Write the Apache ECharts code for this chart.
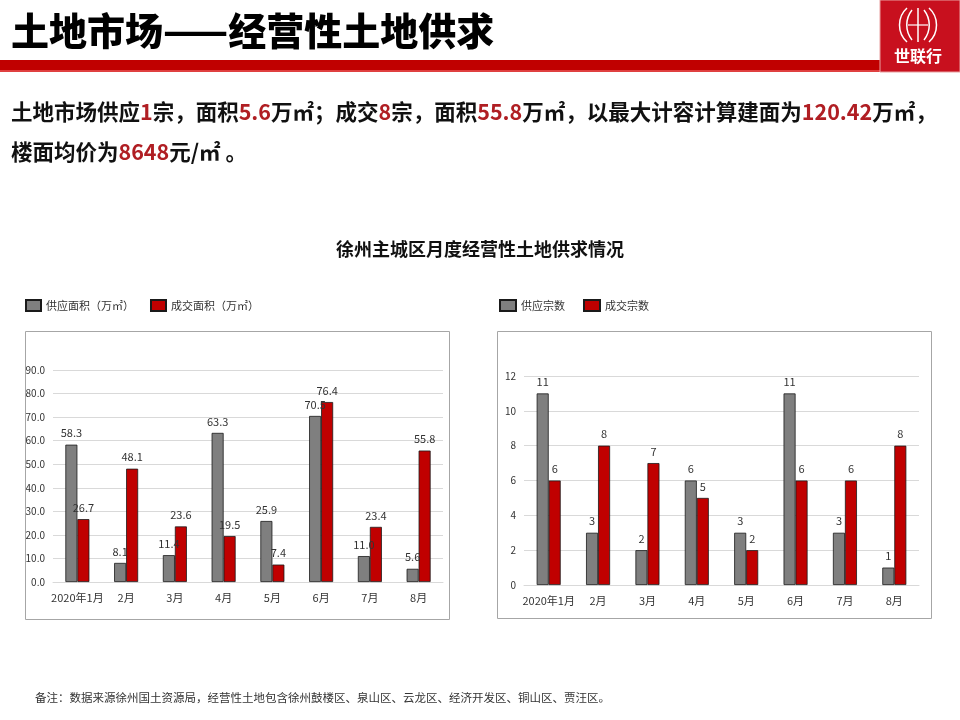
<!DOCTYPE html>
<html><head><meta charset="utf-8">
<script src="https://cdn.jsdelivr.net/npm/echarts@6/dist/echarts.min.js"></script>
<style>html,body{margin:0;padding:0;background:#fff}#c{width:960px;height:720px}</style>
</head><body><div id="c"></div>
<script>
const categories = ['2020年1月','2月','3月','4月','5月','6月','7月','8月'];
const supplyArea = [58.3, 8.1, 11.4, 63.3, 25.9, 70.5, 11.0, 5.6];
const dealArea = [26.7, 48.1, 23.6, 19.5, 7.4, 76.4, 23.4, 55.8];
const supplyCount = [11, 3, 2, 6, 3, 11, 3, 1];
const dealCount = [6, 8, 7, 5, 2, 6, 6, 8];
const areaLegend = ['供应面积（万㎡）','成交面积（万㎡）'];
const countLegend = ['供应宗数','成交宗数'];

const FONT = '"Noto Sans CJK SC","Noto Sans",sans-serif';
const GRAY = '#7f7f7f', RED = '#c00000', LOGO = '#c8101e';
const chart = echarts.init(document.getElementById('c'), null, {renderer:'canvas'});

function barSeries(name, data, color, xi, fmt){
  return {
    name, type:'bar', data, xAxisIndex:xi, yAxisIndex:xi, barWidth:12, barGap:'0%',
    itemStyle:{color, borderColor:'#1a1a1a', borderWidth:0.8},
    label:{show:true, position:'top', distance:6, color:'#333', fontSize:11, fontFamily:FONT,
      formatter:p=>fmt(p.value)}
  };
}
const axisCommon = {
  axisLine:{show:false}, axisTick:{show:false},
  splitLine:{lineStyle:{color:'#d9d9d9', width:1}},
  axisLabel:{color:'#333', fontSize:10, fontFamily:FONT, margin:8}
};
const catAxis = {
  type:'category', data:categories,
  axisLine:{show:true, lineStyle:{color:'#d9d9d9'}}, axisTick:{show:false},
  axisLabel:{color:'#333', fontSize:11, fontFamily:FONT, margin:10, interval:0}
};
const W = {stroke:'#fff', lineWidth:1.5, fill:'none'};

const option = {
  animation:false,
  textStyle:{fontFamily:FONT},
  legend:[
    {data:areaLegend, left:25, top:299, padding:0, itemWidth:15, itemHeight:11, itemGap:16,
     textStyle:{fontSize:11, color:'#333', fontFamily:FONT}, icon:'rect'},
    {data:countLegend, left:499, top:299, padding:0, itemWidth:16, itemHeight:11, itemGap:18,
     textStyle:{fontSize:11, color:'#333', fontFamily:FONT}, icon:'rect'}
  ],
  grid:[
    {left:53, right:517, top:370, bottom:138},
    {left:524, right:41, top:376, bottom:135}
  ],
  xAxis:[Object.assign({gridIndex:0}, catAxis), Object.assign({gridIndex:1}, catAxis)],
  yAxis:[
    Object.assign({type:'value', gridIndex:0, min:0, max:90, interval:10}, axisCommon,
      {axisLabel:Object.assign({}, axisCommon.axisLabel, {formatter:v=>v.toFixed(1)})}),
    Object.assign({type:'value', gridIndex:1, min:0, max:12, interval:2}, axisCommon)
  ],
  series:[
    barSeries(areaLegend[0], supplyArea, GRAY, 0, v=>v.toFixed(1)),
    barSeries(areaLegend[1], dealArea, RED, 0, v=>v.toFixed(1)),
    barSeries(countLegend[0], supplyCount, GRAY, 1, v=>String(v)),
    barSeries(countLegend[1], dealCount, RED, 1, v=>String(v))
  ],
  graphic:[
    {type:'text', left:11, top:12, z:10, style:{text:'土地市场——经营性土地供求', fill:'#000',
      font:'900 38px '+FONT}},
    {type:'rect', shape:{x:0, y:60, width:882, height:11}, style:{fill:RED}, z:5},
    {type:'rect', shape:{x:0, y:70, width:882, height:2}, style:{fill:'#e04040'}, z:5},
    {type:'rect', shape:{x:880, y:0, width:80, height:72}, style:{fill:LOGO, stroke:'#e8a0a0', lineWidth:1}, z:6},
    {type:'bezierCurve', z:7, shape:{x1:907,y1:8,cpx1:897,cpy1:17,cpx2:897,cpy2:33,x2:907,y2:42}, style:W},
    {type:'bezierCurve', z:7, shape:{x1:912,y1:10,cpx1:905,cpy1:19,cpx2:905,cpy2:31,x2:912,y2:40}, style:W},
    {type:'bezierCurve', z:7, shape:{x1:929,y1:8,cpx1:939,cpy1:17,cpx2:939,cpy2:33,x2:929,y2:42}, style:W},
    {type:'bezierCurve', z:7, shape:{x1:924,y1:10,cpx1:931,cpy1:19,cpx2:931,cpy2:31,x2:924,y2:40}, style:W},
    {type:'line', z:7, shape:{x1:918, y1:8, x2:918, y2:42}, style:W},
    {type:'line', z:7, shape:{x1:908, y1:25, x2:928, y2:25}, style:{stroke:'#fff', lineWidth:1.2}},
    {type:'text', left:894, top:48, z:9, style:{text:'世联行', fill:'#fff', font:'bold 16px '+FONT}},
    {type:'text', left:11, top:101, z:10, style:{
      text:'土地市场供应{r|1}宗，面积{r|5.6}万㎡；成交{r|8}宗，面积{r|55.8}万㎡，以最大计容计算建面为{r|120.42}万㎡，',
      fill:'#111', font:'bold 21.5px '+FONT,
      rich:{r:{fill:'#b01e23', font:'bold 21.5px '+FONT}}}},
    {type:'text', left:11, top:141, z:10, style:{
      text:'楼面均价为{r|8648}元/㎡ 。',
      fill:'#111', font:'bold 21.5px '+FONT,
      rich:{r:{fill:'#b01e23', font:'bold 21.5px '+FONT}}}},
    {type:'text', left:'center', top:240, z:10, style:{text:'徐州主城区月度经营性土地供求情况', fill:'#111',
      font:'bold 18px '+FONT}},
    {type:'rect', shape:{x:25.5, y:331.5, width:424, height:288}, style:{fill:'none', stroke:'#a6a6a6', lineWidth:1}, z:1},
    {type:'rect', shape:{x:497.5, y:331.5, width:434, height:287}, style:{fill:'none', stroke:'#a6a6a6', lineWidth:1}, z:1},
    {type:'text', left:35, top:692, z:10, style:{
      text:'备注：数据来源徐州国土资源局，经营性土地包含徐州鼓楼区、泉山区、云龙区、经济开发区、铜山区、贾汪区。',
      fill:'#333', font:'11.5px '+FONT}}
  ]
};
chart.setOption(option);
</script></body></html>
